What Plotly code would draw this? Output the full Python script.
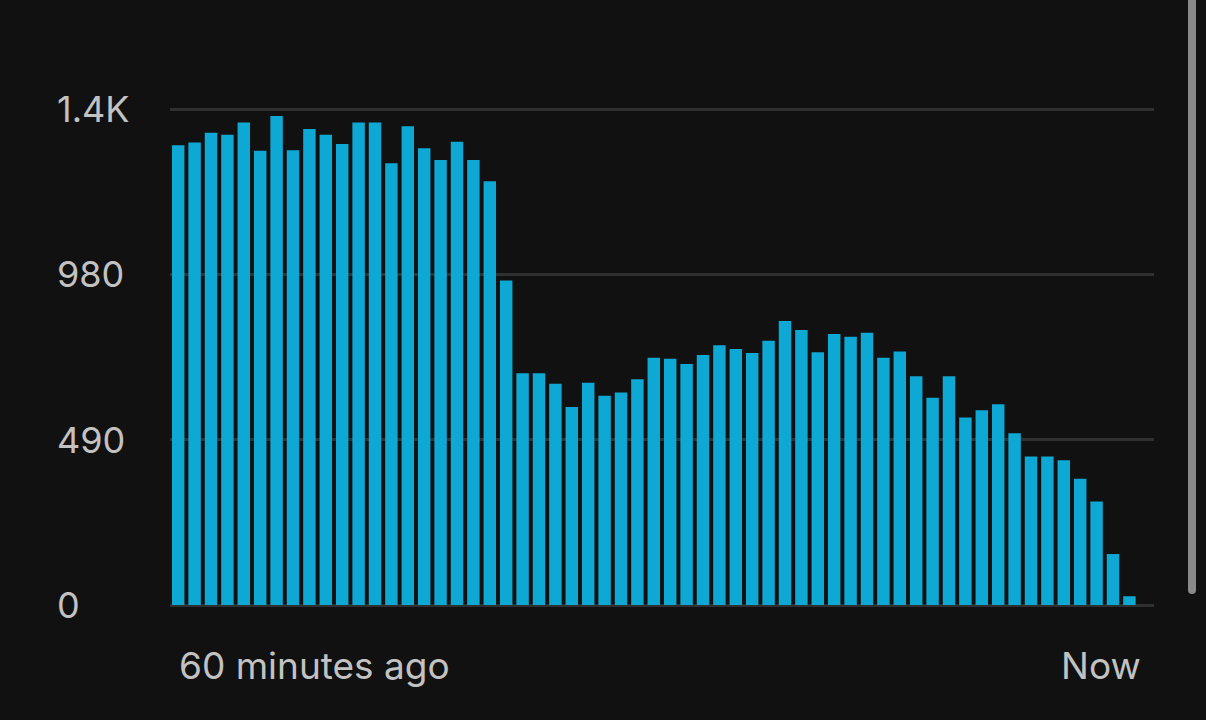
import plotly.graph_objects as go

# Data (60 one-minute buckets, oldest first)
minutes = list(range(60))
counts = [1363, 1371, 1400, 1394, 1430, 1346, 1449, 1348, 1411, 1394,
          1366, 1430, 1430, 1309, 1419, 1354, 1319, 1373, 1319, 1256,
          962, 687, 687, 656, 587, 659, 620, 630, 669, 733,
          730, 714, 741, 770, 759, 747, 783, 842, 815, 749,
          803, 795, 807, 733, 751, 678, 614, 678, 556, 577,
          595, 509, 440, 440, 429, 374, 307, 151, 26, 0]
y_tick_vals = [0, 490, 980, 1470]
y_tick_text = ["0", "490", "980", "1.4K"]
x_label_start = "60 minutes ago"
x_label_end = "Now"

W, H = 1206, 720
L, R, T, B = 170, 52, 107, 115
PW, PH = W - L - R, H - T - B
Y_MAX = 1476


def px_x(p):
    return (p - L) / PW


def px_y(p):
    return (H - B - p) / PH


BG = "#111111"
TXT = "#c2c2c2"
FONT = "Inter, Roboto, sans-serif"
FS = 36

fig = go.Figure()
fig.add_trace(go.Bar(x=minutes, y=counts, marker=dict(color="#0da9d4", line=dict(width=0)),
                     hoverinfo="skip"))

annotations = []
for v, t in zip(y_tick_vals, y_tick_text):
    annotations.append(dict(x=px_x(55), y=v, xref="paper", yref="y", text=t,
                            showarrow=False, xanchor="left", yanchor="middle",
                            font=dict(size=FS, color=TXT, family=FONT)))
annotations.append(dict(x=px_x(177), y=px_y(665), xref="paper", yref="paper",
                        text=x_label_start, showarrow=False, xanchor="left",
                        yanchor="middle", font=dict(size=FS + 1, color=TXT, family=FONT)))
annotations.append(dict(x=px_x(1143), y=px_y(665), xref="paper", yref="paper",
                        text=x_label_end, showarrow=False, xanchor="right",
                        yanchor="middle", font=dict(size=FS + 1, color=TXT, family=FONT)))

shapes = [
    dict(type="rect", xref="paper", yref="paper", x0=px_x(1188), x1=px_x(1196),
         y0=px_y(590), y1=px_y(-10), fillcolor="#8a8a8a", line=dict(width=0), layer="above"),
    dict(type="circle", xref="paper", yref="paper", x0=px_x(1188), x1=px_x(1196),
         y0=px_y(594), y1=px_y(586), fillcolor="#8a8a8a", line=dict(width=0), layer="above"),
]

fig.update_layout(
    width=W, height=H,
    margin=dict(l=L, r=R, t=T, b=B, pad=0),
    paper_bgcolor=BG, plot_bgcolor=BG,
    bargap=0.24,
    showlegend=False,
    annotations=annotations,
    shapes=shapes,
    xaxis=dict(range=[-0.5, 59.5], showgrid=False, zeroline=False, showticklabels=False,
               showline=False, ticks="", fixedrange=True),
    yaxis=dict(range=[0, Y_MAX], tickvals=y_tick_vals, showticklabels=False,
               showgrid=True, gridcolor="#303030", gridwidth=3,
               zeroline=True, zerolinecolor="#303030", zerolinewidth=3,
               showline=False, ticks="", fixedrange=True),
)

fig.write_html("out.html", config={"displayModeBar": False},
               post_script="document.body.style.margin='0';document.body.style.background='#111111';")
